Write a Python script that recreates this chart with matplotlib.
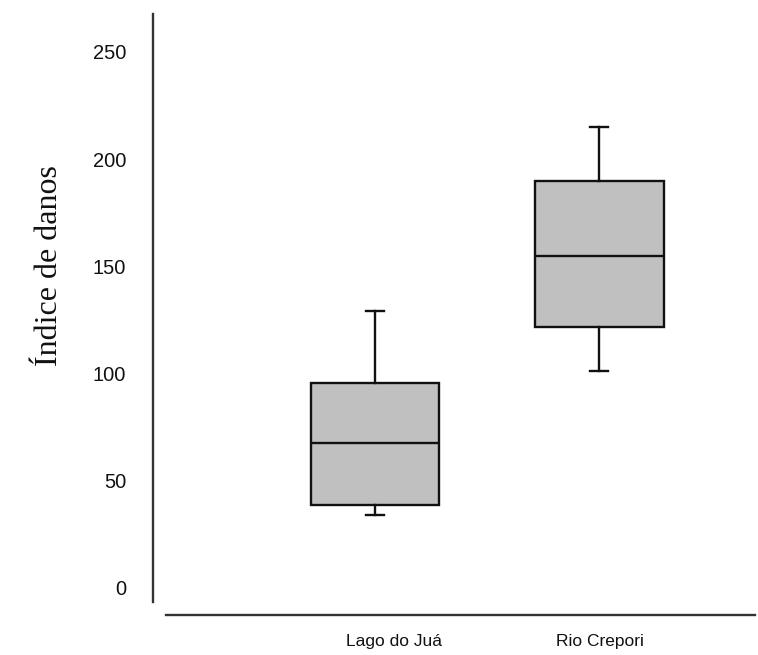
import matplotlib.pyplot as plt
from matplotlib.transforms import ScaledTranslation

# Box summaries per site (read as min/Q1/median/Q3/max of the damage index)
sites = ["Lago do Juá", "Rio Crepori"]
whisker_low = [34, 101]
q1 = [38.5, 121.5]
median = [67.5, 155]
q3 = [95.5, 190]
whisker_high = [129, 215]

y_ticks = [0, 50, 100, 150, 200, 250]

fig = plt.figure(figsize=(7.58, 6.55), dpi=100)
W, H = 758, 655
# axes placed in pixel terms
left, right, top, bottom = 152.7, 755, 14, 615
ax = fig.add_axes([left / W, 1 - bottom / H, (right - left) / W, (bottom - top) / H])

stats = []
for i, name in enumerate(sites):
    stats.append(dict(label=name, whislo=whisker_low[i], q1=q1[i], med=median[i],
                      q3=q3[i], whishi=whisker_high[i], fliers=[]))

ax.bxp(stats, positions=[1, 2], widths=0.573, patch_artist=True, showfliers=False,
       capwidths=0.08,
       boxprops=dict(facecolor="#c0c0c0", edgecolor="#111111", linewidth=1.7),
       medianprops=dict(color="#111111", linewidth=1.7),
       whiskerprops=dict(color="#111111", linewidth=1.7),
       capprops=dict(color="#111111", linewidth=1.7))

ax.set_xlim(0.0098, 2.693)
ax.set_ylim(-12.6, 267.7)

for side in ["top", "right"]:
    ax.spines[side].set_visible(False)
ax.spines["left"].set_bounds(-6.5, 267.7)
ax.spines["bottom"].set_bounds(0.069, 2.693)
for side in ["left", "bottom"]:
    ax.spines[side].set_linewidth(1.7)
    ax.spines[side].set_color("#333333")

ax.set_yticks(y_ticks)
ax.set_yticklabels([str(v) for v in y_ticks], fontsize=14.5, family="Liberation Sans",
                   color="#111111")
ax.tick_params(axis="y", length=0, pad=19)
ax.set_xticks([1, 2])
ax.set_xticklabels(sites, fontsize=12.5, family="Liberation Sans", color="#111111")
ax.tick_params(axis="x", length=0, pad=14)
# first site label sits a little to the right of its box
lbl = ax.get_xticklabels()[0]
lbl.set_transform(lbl.get_transform() + ScaledTranslation(19 / 100, 0, fig.dpi_scale_trans))

fig.text(50 / W, 1 - 266 / H, "Índice de danos", rotation=90, ha="center", va="center",
         fontsize=23, family="Liberation Serif", color="#111111")

fig.savefig("out.png", dpi=100)
